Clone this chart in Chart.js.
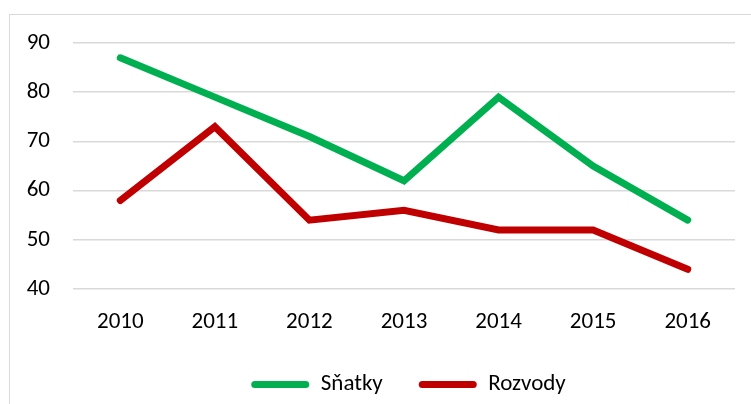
<!DOCTYPE html>
<html>
<head>
<meta charset="utf-8">
<script src="https://cdn.jsdelivr.net/npm/chart.js@4"></script>
<style>
  html, body { margin: 0; padding: 0; background: #fff; overflow: hidden; }
  #frame { position: absolute; left: 9px; top: 14px; width: 800px; height: 420px; border: 1px solid #d9d9d9; }
  #wrap { position: absolute; left: 0; top: 0; width: 751px; height: 404px; }
</style>
</head>
<body>
<div id="frame"></div>
<div id="wrap"><canvas id="c" width="751" height="404"></canvas></div>
<script>
const years = ['2010', '2011', '2012', '2013', '2014', '2015', '2016'];
const snatky = [87, 79, 71, 62, 79, 65, 54];
const rozvody = [58, 73, 54, 56, 52, 52, 44];

const font = { family: 'Carlito, Lato, sans-serif', size: 23 };

// legend in the original is centred on the plot, not the whole canvas
const nudgeLegend = {
  id: 'nudgeLegend',
  afterLayout(chart) {
    const l = chart.legend;
    l.left += 41; l.right += 41;
    l.top += 2; l.bottom += 2;
  }
};

new Chart(document.getElementById('c').getContext('2d'), {
  type: 'line',
  data: {
    labels: years,
    datasets: [
      { label: 'Sňatky', data: snatky, borderColor: '#00b050', backgroundColor: '#00b050' },
      { label: 'Rozvody', data: rozvody, borderColor: '#c00000', backgroundColor: '#c00000' }
    ]
  },
  options: {
    responsive: false,
    animation: false,
    layout: { padding: { left: 0, right: 16, top: 43, bottom: 0 } },
    elements: {
      line: { borderWidth: 7, borderCapStyle: 'round', tension: 0 },
      point: { radius: 0, hoverRadius: 0 }
    },
    scales: {
      x: {
        offset: true,
        grid: { display: false },
        border: { display: false },
        ticks: { color: '#000', font, padding: 11 },
        afterFit: s => { s.height = 46; }
      },
      y: {
        min: 40,
        max: 90,
        ticks: { stepSize: 10, color: '#000', font, padding: 23 },
        grid: { color: '#d9d9d9', lineWidth: 1.5, drawTicks: false },
        border: { display: false },
        afterFit: s => { s.width = 73; }
      }
    },
    plugins: {
      legend: {
        position: 'bottom',
        labels: {
          color: '#000',
          font,
          boxWidth: 58,
          boxHeight: 7,
          useBorderRadius: true,
          borderRadius: 3.5,
          padding: 36,
          generateLabels: chart => chart.data.datasets.map((ds, i) => ({
            text: ds.label,
            fillStyle: ds.borderColor,
            strokeStyle: ds.borderColor,
            lineWidth: 0,
            borderRadius: 3.5,
            datasetIndex: i,
            fontColor: '#000'
          }))
        }
      },
      tooltip: { enabled: false }
    }
  },
  plugins: [nudgeLegend]
});
</script>
</body>
</html>
